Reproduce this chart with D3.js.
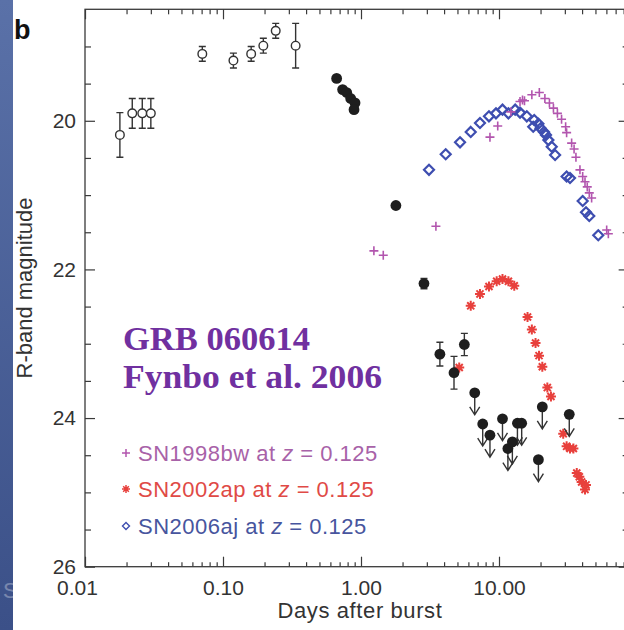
<!DOCTYPE html>
<html>
<head>
<meta charset="utf-8">
<script src="https://cdn.jsdelivr.net/npm/d3@7"></script>
<style>
  html, body { margin: 0; padding: 0; background: #fff; }
  svg { display: block; }
  text { font-family: "Liberation Sans", Arial, Helvetica, sans-serif; }
</style>
</head>
<body>
<svg id="chart" width="624" height="630"></svg>
<script>
// ---- GRB 060614 afterglow (R band) ----
const grbEarlyDays = [0.0179, 0.022, 0.026, 0.030, 0.0708, 0.119, 0.160, 0.196, 0.241, 0.336];
const grbEarlyMag  = [20.19, 19.90, 19.90, 19.90, 19.10, 19.19, 19.10, 18.99, 18.79, 18.99];
const grbEarlyErr  = [0.30, 0.20, 0.20, 0.20, 0.10, 0.10, 0.10, 0.10, 0.10, 0.30];

const grbLateDays = [0.666, 0.736, 0.788, 0.842, 0.905, 0.89, 1.79, 2.86, 3.73, 4.72, 5.61];
const grbLateMag  = [19.43, 19.58, 19.62, 19.70, 19.76, 19.85, 21.14, 22.19, 23.14, 23.39, 23.01];
const grbLateErr  = [0, 0, 0, 0, 0, 0, 0, 0.07, 0.16, 0.22, 0.15];

// upper limits (drawn with downward arrows)
const grbLimitDays = [6.67, 7.62, 8.6, 10.6, 11.6, 12.5, 13.6, 14.6, 19.3, 20.6, 32.3];
const grbLimitMag  = [23.66, 24.08, 24.23, 24.01, 24.41, 24.32, 24.07, 24.07, 24.56, 23.85, 23.95];

// ---- comparison supernovae shifted to z = 0.125 ----
const sn1998bwDays = [1.24, 1.45, 3.49, 8.6, 9.79, 12.2, 14.2, 14.8, 15.3, 17.3, 19.6, 21.5, 23.2, 24.8,
                      26.5, 28.4, 30.4, 30.9, 33.6, 35.0, 36.1, 38.6, 40.4, 42.0, 43.6, 45.1, 46.9, 60.3, 62.0];
const sn1998bwMag  = [21.75, 21.81, 21.42, 20.22, 20.07, 19.88, 19.74, 19.72, 19.73, 19.65, 19.62, 19.70, 19.76, 19.83,
                      19.90, 19.98, 20.08, 20.16, 20.30, 20.38, 20.49, 20.66, 20.75, 20.82, 20.89, 20.97, 21.04, 21.47, 21.52];

const sn2002apDays = [5.15, 6.24, 7.28, 8.46, 9.62, 10.6, 11.7, 12.9, 16.1, 17.3, 18.4, 19.5, 20.6, 22.4,
                      23.8, 29.2, 30.9, 32.7, 34.6, 36.6, 38.2, 39.7, 42.0, 42.7];
const sn2002apMag  = [23.32, 22.49, 22.33, 22.23, 22.16, 22.13, 22.16, 22.22, 22.64, 22.81, 22.99, 23.16, 23.31, 23.59,
                      23.71, 24.21, 24.38, 24.41, 24.41, 24.74, 24.79, 24.86, 24.96, 24.90];

const sn2006ajDays = [3.11, 4.11, 5.22, 6.24, 7.28, 8.46, 9.51, 10.6, 11.7, 13.1, 14.2, 15.9, 17.7, 18.0,
                      19.3, 20.0, 21.2, 21.9, 22.8, 24.1, 25.5, 30.9, 32.7, 40.4, 42.7, 45.1, 52.4];
const sn2006ajMag  = [20.66, 20.45, 20.29, 20.15, 20.03, 19.94, 19.90, 19.85, 19.90, 19.85, 19.89, 19.94, 20.08, 19.99,
                      20.04, 20.10, 20.15, 20.19, 20.26, 20.35, 20.46, 20.75, 20.77, 21.08, 21.23, 21.28, 21.54];

// ---- axes ----
const xMajorTicks = [0.01, 0.1, 1, 10];
const xTickLabels = ["0.01", "0.10", "1.00", "10.00"];
const yMajorTicks = [20, 22, 24, 26];
const legendLabels = ["SN1998bw", "SN2002ap", "SN2006aj"];
const legendRedshift = "0.125";

const svg = d3.select("#chart");

// left decorative band
const defs = svg.append("defs");
const grad = defs.append("linearGradient").attr("id", "band").attr("x1", 0).attr("y1", 0).attr("x2", 0).attr("y2", 1);
grad.append("stop").attr("offset", "0%").attr("stop-color", "#5a71a8");
grad.append("stop").attr("offset", "100%").attr("stop-color", "#3b5088");
svg.append("rect").attr("x", 0).attr("y", 0).attr("width", 13).attr("height", 630).attr("fill", "url(#band)");
svg.append("text").attr("x", 3).attr("y", 598).attr("font-size", 22).attr("fill", "#ffffff")
  .attr("opacity", 0.3).text("S");

const plotLeft = 85, plotTop = 9.3, plotBottom = 566.7;
const decade = 138;
const xMax = 87;
const x = d3.scaleLog().domain([0.01, xMax]).range([plotLeft, plotLeft + decade * Math.log10(xMax / 0.01)]);
const y = d3.scaleLinear().domain([18.5, 26]).range([plotTop, plotBottom]);
const plotRight = x.range()[1];

// minor tick positions for log axis
const xMinorTicks = [];
[0.01, 0.1, 1, 10].forEach(d => { for (let k = 2; k <= 9; k++) { const v = d * k; if (v <= xMax) xMinorTicks.push(v); } });
const yMinorTicks = d3.range(18.5, 26.01, 0.5).filter(v => !yMajorTicks.includes(v) && v > 18.5);

const axisColor = "#3a3a3a";
function styleAxis(g) {
  g.selectAll(".domain").remove();
  g.selectAll("line").attr("stroke", axisColor).attr("stroke-width", 1.2);
  g.selectAll("text").attr("fill", "#333").attr("font-size", 21);
}

// bottom axis (labels)
const gBottom = svg.append("g").attr("transform", `translate(0,${plotBottom})`)
  .call(d3.axisBottom(x).tickValues(xMajorTicks).tickSize(-10).tickPadding(13)
    .tickFormat((d, i) => xTickLabels[i]));
styleAxis(gBottom);
gBottom.selectAll("text").filter((d, i) => i === 0).attr("dx", -8);
svg.append("g").attr("transform", `translate(0,${plotBottom})`)
  .call(d3.axisBottom(x).tickValues(xMinorTicks).tickSize(-4.5).tickFormat(""))
  .call(styleAxis);

// top axis
svg.append("g").attr("transform", `translate(0,${plotTop})`)
  .call(d3.axisTop(x).tickValues(xMajorTicks).tickSize(-10).tickFormat(""))
  .call(styleAxis);
svg.append("g").attr("transform", `translate(0,${plotTop})`)
  .call(d3.axisTop(x).tickValues(xMinorTicks).tickSize(-5).tickFormat(""))
  .call(styleAxis);

// left axis
svg.append("g").attr("transform", `translate(${plotLeft},0)`)
  .call(d3.axisLeft(y).tickValues(yMajorTicks).tickSize(-10).tickPadding(9).tickFormat(d3.format("d")))
  .call(styleAxis);
svg.append("g").attr("transform", `translate(${plotLeft},0)`)
  .call(d3.axisLeft(y).tickValues(yMinorTicks).tickSize(-6).tickFormat(""))
  .call(styleAxis);

// right axis
svg.append("g").attr("transform", `translate(${plotRight},0)`)
  .call(d3.axisRight(y).tickValues(yMajorTicks).tickSize(-10).tickFormat(""))
  .call(styleAxis);
svg.append("g").attr("transform", `translate(${plotRight},0)`)
  .call(d3.axisRight(y).tickValues(yMinorTicks).tickSize(-6).tickFormat(""))
  .call(styleAxis);

// frame
svg.append("rect").attr("x", plotLeft).attr("y", plotTop).attr("width", plotRight - plotLeft).attr("height", plotBottom - plotTop)
  .attr("fill", "none").attr("stroke", axisColor).attr("stroke-width", 1.3);

// axis titles
svg.append("text").attr("x", 360).attr("y", 618).attr("text-anchor", "middle")
  .attr("font-size", 22).attr("letter-spacing", 0.6).attr("fill", "#333").text("Days after burst");
svg.append("text").attr("transform", `translate(32,${y(22.25)}) rotate(-90)`).attr("text-anchor", "middle")
  .attr("font-size", 22).attr("fill", "#333").text("R-band magnitude");

// panel letter
svg.append("text").attr("x", 14).attr("y", 39).attr("font-size", 27).attr("font-weight", "bold")
  .attr("fill", "#111").text("b");

// marker paths
const plusPath = s => `M${-s},0H${s}M0,${-s}V${s}`;
const starPath = s => {
  const c = s * Math.SQRT1_2;
  return `M${-s},0H${s}M0,${-s}V${s}M${-c},${-c}L${c},${c}M${-c},${c}L${c},${-c}`;
};
const diamondPath = s => `M0,${-s}L${s},0L0,${s}L${-s},0Z`;

const cMag = "#b255ae", cRed = "#e8403c", cBlue = "#3e4eb0";

const plot = svg.append("g");

// SN 2002ap
plot.append("g").selectAll("path").data(d3.zip(sn2002apDays, sn2002apMag)).join("path")
  .attr("transform", d => `translate(${x(d[0])},${y(d[1])})`)
  .attr("d", starPath(5)).attr("fill", "none").attr("stroke", cRed).attr("stroke-width", 2);

// SN 2006aj
plot.append("g").selectAll("path").data(d3.zip(sn2006ajDays, sn2006ajMag)).join("path")
  .attr("transform", d => `translate(${x(d[0])},${y(d[1])})`)
  .attr("d", diamondPath(5)).attr("fill", "none").attr("stroke", cBlue).attr("stroke-width", 2.2);

// SN 1998bw
plot.append("g").selectAll("path").data(d3.zip(sn1998bwDays, sn1998bwMag)).join("path")
  .attr("transform", d => `translate(${x(d[0])},${y(d[1])})`)
  .attr("d", plusPath(4.5)).attr("fill", "none").attr("stroke", cMag).attr("stroke-width", 1.6);

// error bars
function errorBars(days, mags, errs) {
  const data = d3.zip(days, mags, errs).filter(d => d[2] > 0);
  const g = plot.append("g").attr("stroke", "#333").attr("stroke-width", 1.4);
  g.selectAll("path").data(data).join("path")
    .attr("d", d => {
      const cx = x(d[0]), y0 = y(d[1] - d[2]), y1 = y(d[1] + d[2]);
      return `M${cx},${y0}V${y1}M${cx - 3.5},${y0}H${cx + 3.5}M${cx - 3.5},${y1}H${cx + 3.5}`;
    });
}
errorBars(grbEarlyDays, grbEarlyMag, grbEarlyErr);
errorBars(grbLateDays, grbLateMag, grbLateErr);

// early open circles
plot.append("g").selectAll("circle").data(d3.zip(grbEarlyDays, grbEarlyMag)).join("circle")
  .attr("cx", d => x(d[0])).attr("cy", d => y(d[1])).attr("r", 4.3)
  .attr("fill", "#fff").attr("stroke", "#333").attr("stroke-width", 1.4);

// upper-limit arrows
const limits = d3.zip(grbLimitDays, grbLimitMag);
plot.append("g").attr("stroke", "#333").attr("stroke-width", 1.4).attr("fill", "none")
  .selectAll("path").data(limits).join("path")
  .attr("d", d => {
    const cx = x(d[0]), cy = y(d[1]), tip = cy + 22;
    return `M${cx},${cy}V${tip}M${cx - 5},${tip - 8}L${cx},${tip}L${cx + 5},${tip - 8}`;
  });

// filled detections and limit heads
plot.append("g").selectAll("circle").data(d3.zip(grbLateDays, grbLateMag).concat(limits)).join("circle")
  .attr("cx", d => x(d[0])).attr("cy", d => y(d[1])).attr("r", 5.4).attr("fill", "#1e1e1e");

// legend
const legendColors = [cMag, cRed, cBlue];
const legendText = ["#a862a8", "#e04a46", "#47559e"];
const legendMarks = [plusPath(4), starPath(4), diamondPath(3.5)];
const legendY = [453, 489, 526];
legendLabels.forEach((name, i) => {
  svg.append("path").attr("transform", `translate(126,${legendY[i]})`).attr("d", legendMarks[i])
    .attr("fill", "none").attr("stroke", legendColors[i]).attr("stroke-width", i === 2 ? 1.4 : 1.5);
  const t = svg.append("text").attr("x", 138).attr("y", legendY[i] + 8).attr("font-size", 22)
    .attr("letter-spacing", 0.5).attr("fill", legendText[i]);
  t.append("tspan").text(name + " at ");
  t.append("tspan").attr("font-style", "italic").text("z");
  t.append("tspan").text(" = " + legendRedshift);
});

// event annotation
const note = svg.append("g").attr("font-weight", "bold").attr("fill", "#7030a0").attr("font-size", 34);
note.append("text").attr("x", 123).attr("y", 350).attr("textLength", 187).attr("lengthAdjust", "spacingAndGlyphs")
  .style("font-family", "'Liberation Serif', serif").text("GRB 060614");
note.append("text").attr("x", 123).attr("y", 388).attr("textLength", 259).attr("lengthAdjust", "spacingAndGlyphs")
  .style("font-family", "'Liberation Serif', serif").text("Fynbo et al. 2006");
</script>
</body>
</html>
